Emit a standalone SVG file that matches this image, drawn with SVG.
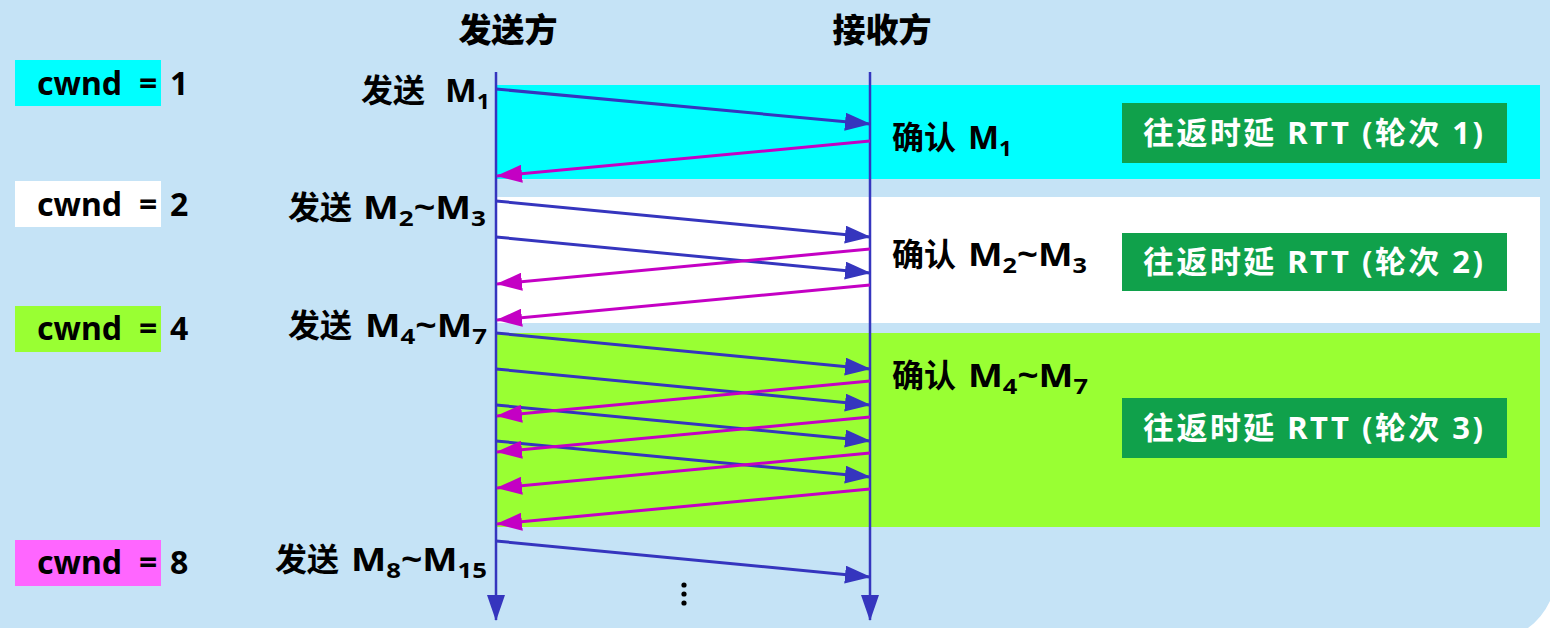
<svg xmlns="http://www.w3.org/2000/svg" width="1550" height="628" viewBox="0 0 1550 628">
<style>
text{font-family:"Noto Sans","Noto Sans CJK SC",sans-serif;font-weight:bold;fill:#000;}
.t{font-size:32px;}
.title{font-size:33px;font-weight:900;}
.sub{font-size:22px;}
.rtt{font-size:31px;fill:#fff;}
.fwd{stroke:#3535BE;stroke-width:3;fill:none;marker-end:url(#ab);}
.ack{stroke:#C400C4;stroke-width:3;fill:none;marker-end:url(#am);}
.tl{stroke:#3535BE;stroke-width:2.5;fill:none;marker-end:url(#at);}
.box{fill:#10A14B;}
</style>
<defs>
<marker id="ab" markerUnits="userSpaceOnUse" markerWidth="26" markerHeight="18" refX="25" refY="9" orient="auto"><path d="M0,0 L26,9 L0,18 Z" fill="#3535BE"/></marker>
<marker id="am" markerUnits="userSpaceOnUse" markerWidth="26" markerHeight="18" refX="25" refY="9" orient="auto"><path d="M0,0 L26,9 L0,18 Z" fill="#C400C4"/></marker>
<marker id="at" markerUnits="userSpaceOnUse" markerWidth="26" markerHeight="18" refX="25" refY="9" orient="auto"><path d="M0,0 L26,9 L0,18 Z" fill="#3535BE"/></marker>
</defs>
<rect x="0" y="0" width="1550" height="628" fill="#fff"/>
<path d="M0,0 H1550 V601 Q1542,618 1528,628 H0 Z" fill="#C5E3F6"/>
<g id="bands">
<rect x="497" y="85" width="1043" height="94" fill="#00FFFF"/>
<rect x="497" y="197" width="1043" height="126" fill="#FFFFFF"/>
<rect x="497" y="333" width="1043" height="194" fill="#99FF33"/>
</g>
<g id="titles">
<text class="title" x="508" y="42" text-anchor="middle">发送方</text>
<text class="title" x="882" y="42" text-anchor="middle">接收方</text>
</g>
<g id="cwnd1"><rect x="15" y="60" width="146" height="46" fill="#00FFFF"/><text class="t" y="95"><tspan x="37">cwnd</tspan><tspan x="139">=</tspan><tspan x="170">1</tspan></text></g>
<g id="cwnd2"><rect x="15" y="181" width="146" height="46" fill="#FFFFFF"/><text class="t" y="216"><tspan x="37">cwnd</tspan><tspan x="139">=</tspan><tspan x="170">2</tspan></text></g>
<g id="cwnd4"><rect x="15" y="306" width="146" height="46" fill="#99FF33"/><text class="t" y="340"><tspan x="37">cwnd</tspan><tspan x="139">=</tspan><tspan x="170">4</tspan></text></g>
<g id="cwnd8"><rect x="15" y="540" width="146" height="46" fill="#FF66FF"/><text class="t" y="574"><tspan x="37">cwnd</tspan><tspan x="139">=</tspan><tspan x="170">8</tspan></text></g>
<g id="send-labels">
<text class="t" x="361" y="102">发送</text>
<text class="t" x="445" y="102" textLength="45" lengthAdjust="spacingAndGlyphs">M<tspan class="sub" dy="7">1</tspan></text>
<text class="t" x="288" y="219">发送</text>
<text class="t" x="363" y="219" textLength="123" lengthAdjust="spacingAndGlyphs">M<tspan class="sub" dy="7">2</tspan><tspan dy="-7">~M</tspan><tspan class="sub" dy="7">3</tspan></text>
<text class="t" x="288" y="337">发送</text>
<text class="t" x="365" y="337" textLength="122" lengthAdjust="spacingAndGlyphs">M<tspan class="sub" dy="7">4</tspan><tspan dy="-7">~M</tspan><tspan class="sub" dy="7">7</tspan></text>
<text class="t" x="275" y="571">发送</text>
<text class="t" x="351" y="571" textLength="136" lengthAdjust="spacingAndGlyphs">M<tspan class="sub" dy="7">8</tspan><tspan dy="-7">~M</tspan><tspan class="sub" dy="7">15</tspan></text>
</g>
<g id="ack-labels">
<text class="t" x="892" y="149">确认</text>
<text class="t" x="968" y="149" textLength="44" lengthAdjust="spacingAndGlyphs">M<tspan class="sub" dy="7">1</tspan></text>
<text class="t" x="892" y="266">确认</text>
<text class="t" x="968" y="266" textLength="119" lengthAdjust="spacingAndGlyphs">M<tspan class="sub" dy="7">2</tspan><tspan dy="-7">~M</tspan><tspan class="sub" dy="7">3</tspan></text>
<text class="t" x="892" y="387">确认</text>
<text class="t" x="968" y="387" textLength="120" lengthAdjust="spacingAndGlyphs">M<tspan class="sub" dy="7">4</tspan><tspan dy="-7">~M</tspan><tspan class="sub" dy="7">7</tspan></text>
</g>
<g id="rtt1"><rect class="box" x="1122" y="103" width="385" height="60"/><text class="rtt" x="1143" y="144" textLength="340" lengthAdjust="spacing">往返时延 RTT (轮次 1)</text></g>
<g id="rtt2"><rect class="box" x="1122" y="233" width="385" height="58"/><text class="rtt" x="1143" y="273" textLength="340" lengthAdjust="spacing">往返时延 RTT (轮次 2)</text></g>
<g id="rtt3"><rect class="box" x="1122" y="398" width="385" height="60"/><text class="rtt" x="1143" y="439" textLength="340" lengthAdjust="spacing">往返时延 RTT (轮次 3)</text></g>
<g id="dots" fill="#000"><circle cx="684" cy="585" r="2.6"/><circle cx="684" cy="594" r="2.6"/><circle cx="684" cy="603" r="2.6"/></g>
<g id="connectors">
<line class="tl" x1="496" y1="72" x2="496" y2="620"/>
<line class="tl" x1="870" y1="72" x2="870" y2="620"/>
<line class="fwd" x1="496" y1="89" x2="870" y2="124"/>
<line class="ack" x1="870" y1="141" x2="497" y2="176"/>
<line class="fwd" x1="496" y1="201" x2="870" y2="237"/>
<line class="fwd" x1="496" y1="237" x2="870" y2="273"/>
<line class="ack" x1="870" y1="249" x2="497" y2="284"/>
<line class="ack" x1="870" y1="285" x2="497" y2="320"/>
<line class="fwd" x1="496" y1="333" x2="870" y2="369"/>
<line class="fwd" x1="496" y1="369" x2="870" y2="405"/>
<line class="fwd" x1="496" y1="405" x2="870" y2="441"/>
<line class="fwd" x1="496" y1="441" x2="870" y2="477"/>
<line class="ack" x1="870" y1="381" x2="497" y2="416"/>
<line class="ack" x1="870" y1="417" x2="497" y2="452"/>
<line class="ack" x1="870" y1="453" x2="497" y2="488"/>
<line class="ack" x1="870" y1="489" x2="497" y2="524"/>
<line class="fwd" x1="496" y1="541" x2="870" y2="577"/>
</g>
</svg>
